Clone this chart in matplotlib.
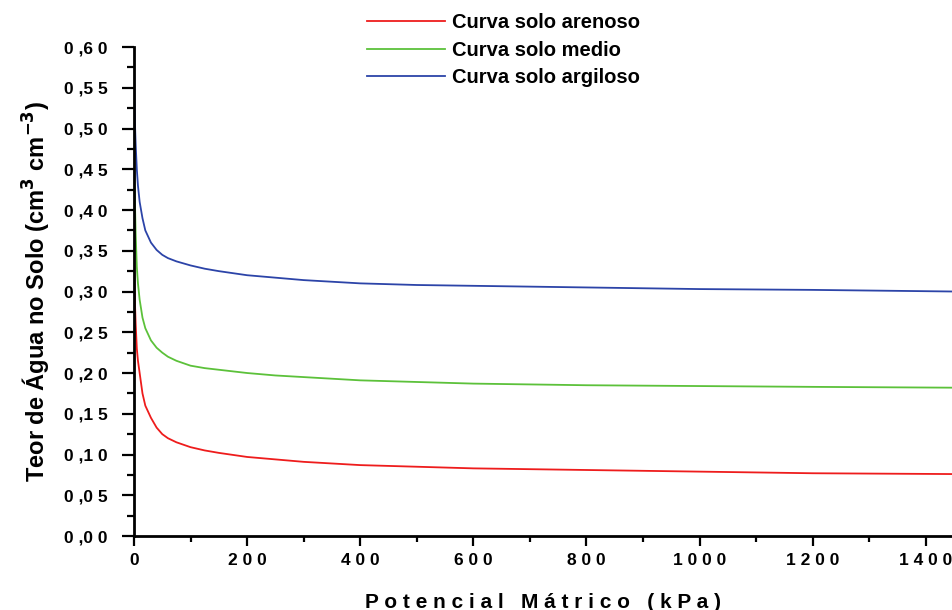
import matplotlib
matplotlib.use("Agg")
from matplotlib import pyplot as plt
from matplotlib.ticker import MultipleLocator, FuncFormatter

plt.rcParams['font.family'] = ['Liberation Sans', 'DejaVu Sans']
plt.rcParams['font.weight'] = 'bold'

# potencial matrico (kPa) e teor de agua (cm3 cm-3) por tipo de solo
potencial = [0, 1, 2, 3, 5, 7, 10, 15, 20, 30, 40, 50, 60, 75, 100, 125, 150, 200,
             250, 300, 400, 500, 600, 800, 1000, 1200, 1450]
arenoso = [0.36, 0.31, 0.28, 0.26, 0.23, 0.215, 0.20, 0.175, 0.160, 0.145, 0.133, 0.125,
           0.120, 0.115, 0.109, 0.105, 0.102, 0.097, 0.094, 0.091, 0.087, 0.085, 0.083,
           0.081, 0.079, 0.077, 0.076]
medio = [0.48, 0.43, 0.40, 0.37, 0.33, 0.31, 0.29, 0.268, 0.255, 0.240, 0.231, 0.225,
         0.220, 0.215, 0.209, 0.206, 0.204, 0.200, 0.197, 0.195, 0.191, 0.189, 0.187,
         0.185, 0.184, 0.183, 0.182]
argiloso = [0.58, 0.53, 0.50, 0.48, 0.45, 0.43, 0.41, 0.39, 0.375, 0.36, 0.351, 0.345,
            0.341, 0.337, 0.332, 0.328, 0.325, 0.320, 0.317, 0.314, 0.310, 0.308, 0.307,
            0.305, 0.303, 0.302, 0.300]

fig = plt.figure(figsize=(9.53, 6.10), dpi=100)
ax = fig.add_axes([0.1406, 0.1213, 0.8594, 0.8016])

l1, = ax.plot(potencial, arenoso, color='#ee1c1c', lw=1.3, label='Curva solo arenoso')
l2, = ax.plot(potencial, medio, color='#5cc13a', lw=1.3, label='Curva solo medio')
l3, = ax.plot(potencial, argiloso, color='#2c44a8', lw=1.3, label='Curva solo argiloso')

ax.set_xlim(0, 1448)
ax.set_ylim(0, 0.6)
ax.spines['top'].set_visible(False)
ax.spines['right'].set_visible(False)
ax.spines['left'].set_linewidth(2)
ax.spines['bottom'].set_linewidth(2)

ax.xaxis.set_major_locator(MultipleLocator(200))
ax.xaxis.set_minor_locator(MultipleLocator(100))
ax.yaxis.set_major_locator(MultipleLocator(0.05))
ax.yaxis.set_minor_locator(MultipleLocator(0.025))
ax.tick_params(axis='x', which='major', direction='out', length=7, width=1.6,
               labelsize=12.5, pad=5)
ax.tick_params(axis='y', which='major', direction='out', length=9, width=1.6,
               labelsize=12.5, pad=10)
ax.tick_params(which='minor', direction='out', length=4, width=1.6)
ax.tick_params(axis='y', which='minor', length=5)

ax.xaxis.set_major_formatter(FuncFormatter(lambda v, p: ' '.join(f'{v:.0f}')))
ax.yaxis.set_major_formatter(FuncFormatter(
    lambda v, p: '{} ,{} {}'.format(*f'{v:.2f}'.replace('.', ''))))
for t in ax.get_xticklabels() + ax.get_yticklabels():
    t.set_fontweight('bold')

ax.set_xlabel(' '.join('Potencial') + '   ' + ' '.join('Mátrico') + '   ' + ' '.join('(kPa)'),
              fontsize=15, fontweight='bold', labelpad=18)
ax.set_ylabel(r'Teor de Água no Solo (cm$^{\mathbf{3}}$ cm$^{\mathbf{-3}}$)',
              fontsize=17, fontweight='bold', labelpad=8)

fig.legend(handles=[l1, l2, l3], loc='upper left', bbox_to_anchor=(0.371, 1.0),
           frameon=False, fontsize=14.5, handlelength=3.9, handletextpad=0.35,
           labelspacing=0.42, borderaxespad=0.25)

fig.savefig('out.png', dpi=100)
